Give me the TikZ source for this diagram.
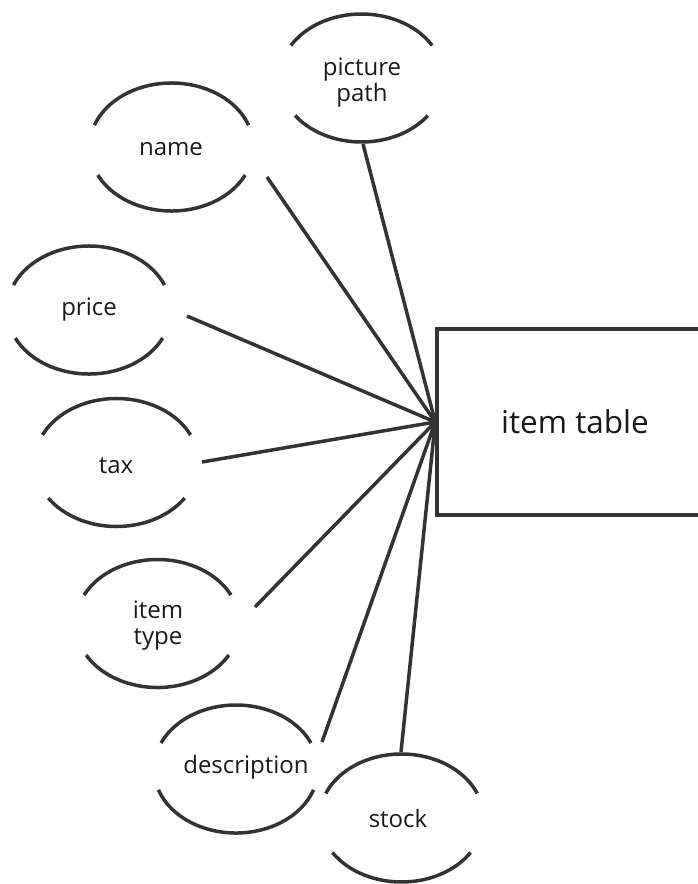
\documentclass[tikz,border=0pt]{standalone}
\usepackage{fontspec}
\setmainfont{Open Sans}

% Attribute "ellipse" drawn as an upper and a lower arc with open sides.
% #1 centre, #2 angle where the upper arc stops, #3 angle where the lower arc stops
\newcommand\attrcaps[3]{%
  \pgfmathsetmacro\capTopEnd{180-#2}%
  \pgfmathsetmacro\capBotStart{180+#3}%
  \pgfmathsetmacro\capBotEnd{360-#3}%
  \draw[ink] (#1) ++(#2:82pt and 64pt)
    arc[start angle=#2, end angle=\capTopEnd, x radius=82pt, y radius=64pt];
  \draw[ink] (#1) ++(\capBotStart:82pt and 64pt)
    arc[start angle=\capBotStart, end angle=\capBotEnd, x radius=82pt, y radius=64pt];
}

\tikzset{
  ink/.style={draw=black!80, line width=3.5pt},
  attr/.style={inner sep=0pt, align=center, text=black!90,
    font=\fontsize{24}{26}\selectfont},
  entity/.style={ink, rectangle, inner sep=0pt, text=black!90,
    minimum width=276pt, minimum height=186pt,
    font=\fontsize{31.5}{36}\selectfont},
  link/.style={ink}
}

\begin{document}
\begin{tikzpicture}[x=1pt, y=-1pt]
  \useasboundingbox (0,0) rectangle (697,884);

  % entity
  \node[entity] (table) at (575,422) {\raisebox{-4pt}{item table}};

  % attribute labels
  \node[attr] (pp)    at (362,83)  {picture\\path};
  \node[attr] (name)  at (171,149) {name};
  \node[attr] (price) at (89,310)  {price};
  \node[attr] (tax)   at (116,466) {tax};
  \node[attr] (itype) at (158,626) {item\\type};
  \node[attr] (desc)  at (246,767) {description};
  \node[attr] (stock) at (398,818) {stock};

  % arc centres
  \coordinate (ppc)    at (361.5,78);
  \coordinate (namec)  at (171.5,147);
  \coordinate (pricec) at (89,310);
  \coordinate (taxc)   at (116.5,462.5);
  \coordinate (itypec) at (157.5,623.5);
  \coordinate (descc)  at (236,769);
  \coordinate (stockc) at (401.5,818);

  \attrcaps{ppc}{30.5}{35.9}
  \attrcaps{namec}{20}{26}
  \attrcaps{pricec}{23}{26}
  \attrcaps{taxc}{25.5}{33.7}
  \attrcaps{itypec}{26.4}{29.5}
  \attrcaps{descc}{24}{19}
  \attrcaps{stockc}{22.5}{32.6}

  % free ends of the connectors next to each attribute
  \coordinate (pp-end)    at (363,144);
  \coordinate (name-end)  at (267,177);
  \coordinate (price-end) at (187,316);
  \coordinate (tax-end)   at (202,462);
  \coordinate (itype-end) at (255,607);
  \coordinate (desc-end)  at (322,742);
  \coordinate (stock-end) at (401,752);

  \foreach \e in {pp,name,price,tax,itype,desc,stock}
    \draw[link] (\e-end) -- (table.west);
\end{tikzpicture}
\end{document}
